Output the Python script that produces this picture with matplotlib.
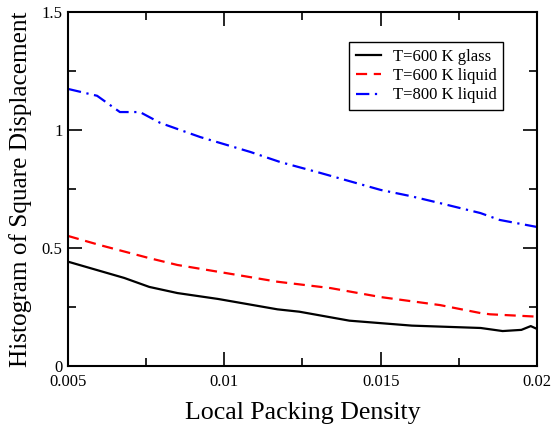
import matplotlib.pyplot as plt
from matplotlib.ticker import MultipleLocator

plt.rcParams['font.family'] = ['Liberation Serif', 'DejaVu Serif']

# valores
x_glass = [0.005, 0.0068, 0.0076, 0.0085, 0.0098, 0.0117, 0.0124, 0.014, 0.016, 0.0182, 0.0189, 0.0195, 0.0198, 0.02]
y_glass = [0.442, 0.373, 0.335, 0.309, 0.284, 0.24, 0.23, 0.192, 0.171, 0.161, 0.148, 0.153, 0.169, 0.157]

x_liq600 = [0.005, 0.006, 0.0076, 0.0085, 0.0104, 0.0117, 0.0134, 0.015, 0.0169, 0.0182, 0.0185, 0.02]
y_liq600 = [0.551, 0.513, 0.457, 0.428, 0.386, 0.357, 0.33, 0.292, 0.258, 0.224, 0.219, 0.209]

x_liq800 = [0.005, 0.00593, 0.00666, 0.0073, 0.00795, 0.00923, 0.01083, 0.01179, 0.01307, 0.015, 0.01595, 0.0169, 0.01819, 0.0188, 0.02]
y_liq800 = [1.174, 1.145, 1.076, 1.076, 1.03, 0.97, 0.907, 0.864, 0.818, 0.746, 0.72, 0.69, 0.648, 0.619, 0.589]

xticks = [0.005, 0.01, 0.015, 0.02]
xlabels = ['0.005', '0.01', '0.015', '0.02']
yticks = [0, 0.5, 1, 1.5]
ylabels = ['0', '0.5', '1', '1.5']

fig = plt.figure(figsize=(5.51, 4.28), dpi=100)
ax = fig.add_axes([0.1234, 0.1449, 0.8512, 0.8271])

ax.plot(x_glass, y_glass, color='black', lw=1.6, label='T=600 K glass')
ax.plot(x_liq600, y_liq600, color='red', lw=1.6, ls=(0, (5, 3)), label='T=600 K liquid')
ax.plot(x_liq800, y_liq800, color='blue', lw=1.6, ls=(0, (6, 2.5, 1, 2.5)), label='T=800 K liquid')

ax.set_xlim(0.005, 0.02)
ax.set_ylim(0, 1.5)
ax.set_xticks(xticks)
ax.set_xticklabels(xlabels)
ax.set_yticks(yticks)
ax.set_yticklabels(ylabels)
ax.xaxis.set_minor_locator(MultipleLocator(0.0025))
ax.yaxis.set_minor_locator(MultipleLocator(0.25))
ax.tick_params(which='both', direction='in', top=True, right=True, labelsize=12, width=1.2)
ax.tick_params(which='major', length=10)
ax.tick_params(which='minor', length=6)
ax.tick_params(axis='x', which='major', pad=5.5)
ax.tick_params(axis='y', which='major', pad=4)
for s in ax.spines.values():
    s.set_linewidth(1.5)

ax.set_xlabel('Local Packing Density', fontsize=18.6, labelpad=9)
ax.set_ylabel('Histogram of Square Displacement', fontsize=18.2, labelpad=7)

leg = ax.legend(loc='upper right', bbox_to_anchor=(0.9275, 0.915), borderaxespad=0,
                fontsize=12, fancybox=False, edgecolor='black', framealpha=1,
                handlelength=1.5, handletextpad=0.7, labelspacing=0.2)
leg.get_frame().set_linewidth(1.0)

fig.savefig('out.png', dpi=100)
